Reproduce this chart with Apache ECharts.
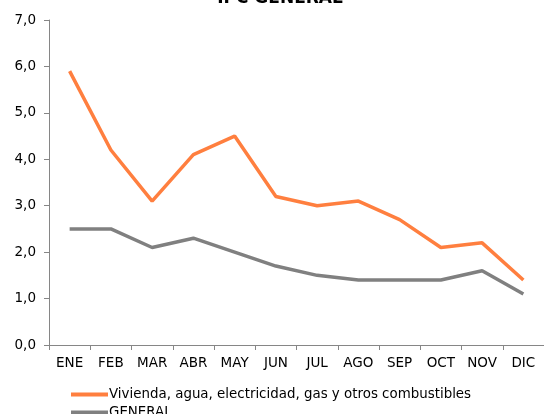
<!DOCTYPE html>
<html>
<head>
<meta charset="utf-8">
<script src="https://cdn.jsdelivr.net/npm/echarts@6/dist/echarts.min.js"></script>
<style>
  html, body { margin: 0; padding: 0; background: #fff; }
  #chart { width: 544px; height: 414px; }
</style>
</head>
<body>
<div id="chart"></div>
<script>
const months = ['ENE', 'FEB', 'MAR', 'ABR', 'MAY', 'JUN', 'JUL', 'AGO', 'SEP', 'OCT', 'NOV', 'DIC']
const vivienda = [5.9, 4.2, 3.1, 4.1, 4.5, 3.2, 3.0, 3.1, 2.7, 2.1, 2.2, 1.4]
const general = [2.5, 2.5, 2.1, 2.3, 2.0, 1.7, 1.5, 1.4, 1.4, 1.4, 1.6, 1.1]
const seriesNames = ['Vivienda, agua, electricidad, gas y otros combustibles', 'GENERAL']

const font = 'DejaVu Sans, Verdana, sans-serif'
const chart = echarts.init(document.getElementById('chart'))

const legendBase = {
  orient: 'vertical',
  left: 66,
  itemWidth: 37,
  itemHeight: 4,
  icon: 'rect',
  textStyle: { fontFamily: font, fontSize: 13.4, color: '#000', padding: [0, 0, 0, -4] }
}

chart.setOption({
  animation: false,
  backgroundColor: '#fff',
  title: {
    text: 'IPC GENERAL',
    left: 275,
    top: -15,
    textAlign: 'center',
    textStyle: { fontFamily: font, fontSize: 17, fontWeight: 'bold', color: '#000' }
  },
  grid: { left: 49, right: -2, top: 20, bottom: 69 },
  legend: [
    Object.assign({}, legendBase, { top: 383, data: [seriesNames[0]] }),
    Object.assign({}, legendBase, { top: 401, data: [seriesNames[1]] })
  ],
  xAxis: {
    type: 'category',
    data: months,
    boundaryGap: true,
    axisLine: { lineStyle: { color: '#868686', width: 1 } },
    axisTick: { show: true, length: 5, lineStyle: { color: '#868686' } },
    axisLabel: { fontFamily: font, fontSize: 13.5, color: '#000', margin: 11 },
    splitLine: { show: false }
  },
  yAxis: {
    type: 'value',
    min: 0,
    max: 7,
    interval: 1,
    axisLine: { show: true, lineStyle: { color: '#868686', width: 1 } },
    axisTick: { show: true, length: 5, lineStyle: { color: '#868686' } },
    axisLabel: {
      fontFamily: font, fontSize: 13.5, color: '#000', margin: 13,
      formatter: v => v.toFixed(1).replace('.', ',')
    },
    splitLine: { show: false }
  },
  series: [
    {
      name: seriesNames[0],
      type: 'line',
      data: vivienda,
      symbol: 'none',
      lineStyle: { color: '#FF7F3F', width: 3.5 },
      itemStyle: { color: '#FF7F3F' }
    },
    {
      name: seriesNames[1],
      type: 'line',
      data: general,
      symbol: 'none',
      lineStyle: { color: '#808080', width: 3.5 },
      itemStyle: { color: '#808080' }
    }
  ]
})
</script>
</body>
</html>
